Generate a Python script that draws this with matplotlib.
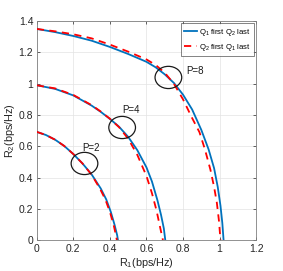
import matplotlib

matplotlib.use("Agg")
import matplotlib.pyplot as plt
from matplotlib.patches import Ellipse

plt.rcParams["font.family"] = ["Liberation Sans", "DejaVu Sans"]
plt.rcParams["mathtext.fontset"] = "custom"
plt.rcParams["mathtext.rm"] = "Liberation Sans"
plt.rcParams["mathtext.it"] = "Liberation Sans"

# P=8 boundaries
p8_q1_r1 = [0, 0.1, 0.2, 0.3, 0.4, 0.5, 0.6, 0.65, 0.7, 0.75, 0.8, 0.85, 0.9, 0.94, 0.97, 0.99, 1.005, 1.015, 1.022]
p8_q1_r2 = [1.35, 1.33, 1.305, 1.275, 1.235, 1.19, 1.14, 1.105, 1.06, 1.005, 0.93, 0.835, 0.705, 0.58, 0.46, 0.34, 0.22, 0.11, 0]
p8_q2_r1 = [0, 0.1, 0.2, 0.3, 0.4, 0.5, 0.6, 0.65, 0.7, 0.75, 0.8, 0.85, 0.89, 0.92, 0.95, 0.97, 0.985, 0.997, 1.005]
p8_q2_r2 = [1.35, 1.335, 1.316, 1.29, 1.25, 1.205, 1.155, 1.12, 1.07, 1.0, 0.9, 0.78, 0.69, 0.58, 0.45, 0.34, 0.24, 0.12, 0]

# P=4 boundaries
p4_q1_r1 = [0, 0.1, 0.2, 0.3, 0.35, 0.4, 0.45, 0.5, 0.55, 0.6, 0.63, 0.66, 0.68, 0.695, 0.703]
p4_q1_r2 = [0.99, 0.967, 0.925, 0.86, 0.82, 0.775, 0.725, 0.66, 0.575, 0.465, 0.375, 0.255, 0.16, 0.075, 0]
p4_q2_r1 = [0, 0.1, 0.2, 0.3, 0.35, 0.4, 0.45, 0.5, 0.55, 0.6, 0.63, 0.655, 0.675, 0.69]
p4_q2_r2 = [0.99, 0.97, 0.928, 0.863, 0.822, 0.776, 0.722, 0.648, 0.545, 0.41, 0.3, 0.19, 0.08, 0]

# P=2 boundaries
p2_q1_r1 = [0, 0.05, 0.1, 0.15, 0.2, 0.25, 0.3, 0.35, 0.38, 0.405, 0.425, 0.44, 0.444]
p2_q1_r2 = [0.692, 0.672, 0.642, 0.602, 0.55, 0.49, 0.42, 0.33, 0.26, 0.18, 0.1, 0.03, 0]
p2_q2_r1 = [0, 0.05, 0.1, 0.15, 0.2, 0.25, 0.3, 0.345, 0.375, 0.4, 0.42, 0.433, 0.438]
p2_q2_r2 = [0.692, 0.672, 0.642, 0.602, 0.55, 0.49, 0.418, 0.33, 0.26, 0.18, 0.1, 0.03, 0]

# annotation circles: label, center, label position
power_labels = ["P=8", "P=4", "P=2"]
circle_centers = [(0.72, 1.04), (0.467, 0.72), (0.261, 0.49)]
label_pos = [(0.818, 1.08), (0.47, 0.83), (0.246, 0.592)]

x_ticks = [0, 0.2, 0.4, 0.6, 0.8, 1.0, 1.2]
x_tick_labels = ["0", "0.2", "0.4", "0.6", "0.8", "1", "1.2"]
y_ticks = [0, 0.2, 0.4, 0.6, 0.8, 1.0, 1.2, 1.4]
y_tick_labels = ["0", "0.2", "0.4", "0.6", "0.8", "1", "1.2", "1.4"]

blue = "#0072BD"
fig = plt.figure(figsize=(2.83, 2.71), dpi=100)
ax = fig.add_axes([0.130, 0.114, 0.775, 0.808])

q1_lines = [(p8_q1_r1, p8_q1_r2), (p4_q1_r1, p4_q1_r2), (p2_q1_r1, p2_q1_r2)]
q2_lines = [(p8_q2_r1, p8_q2_r2), (p4_q2_r1, p4_q2_r2), (p2_q2_r1, p2_q2_r2)]
for i, (x, y) in enumerate(q1_lines):
    ax.plot(x, y, color=blue, lw=1.3, label=r"Q$_1$ first Q$_2$ last" if i == 0 else None,
            zorder=3, solid_joinstyle="round")
for i, (x, y) in enumerate(q2_lines):
    ax.plot(x, y, color="red", lw=1.3, ls=(0, (4, 3)),
            label=r"Q$_2$ first Q$_1$ last" if i == 0 else None, zorder=4)

for lab, c, pos in zip(power_labels, circle_centers, label_pos):
    ax.add_patch(Ellipse(c, 0.146, 0.142, fill=False, ec="#1a1a1a", lw=0.9, zorder=5))
    ax.text(pos[0], pos[1], lab, fontsize=7, color="#1a1a1a", va="center", ha="left")

ax.set_xlim(0, 1.2)
ax.set_ylim(0, 1.4)
ax.set_xticks(x_ticks)
ax.set_xticklabels(x_tick_labels)
ax.set_yticks(y_ticks)
ax.set_yticklabels(y_tick_labels)
ax.tick_params(direction="in", length=2.5, width=0.5, labelsize=7.5, colors="#262626",
               top=True, right=True, pad=2.5)
ax.grid(True, color="#e3e3e3", lw=0.5)
ax.set_axisbelow(True)
for s in ax.spines.values():
    s.set_color("#808080")
    s.set_linewidth(0.6)

ax.set_xlabel(r"R$_1$(bps/Hz)", fontsize=7.8, color="#262626", labelpad=2)
ax.set_ylabel(r"R$_2$(bps/Hz)", fontsize=7.8, color="#262626", labelpad=1)

leg = ax.legend(loc="upper right", fontsize=5.6, frameon=True, fancybox=False,
                borderaxespad=0.3, handlelength=1.7, handletextpad=0.2,
                borderpad=0.4, labelspacing=0.55)
leg.get_frame().set_edgecolor("#262626")
leg.get_frame().set_linewidth(0.5)

fig.savefig("out.png", dpi=100)
